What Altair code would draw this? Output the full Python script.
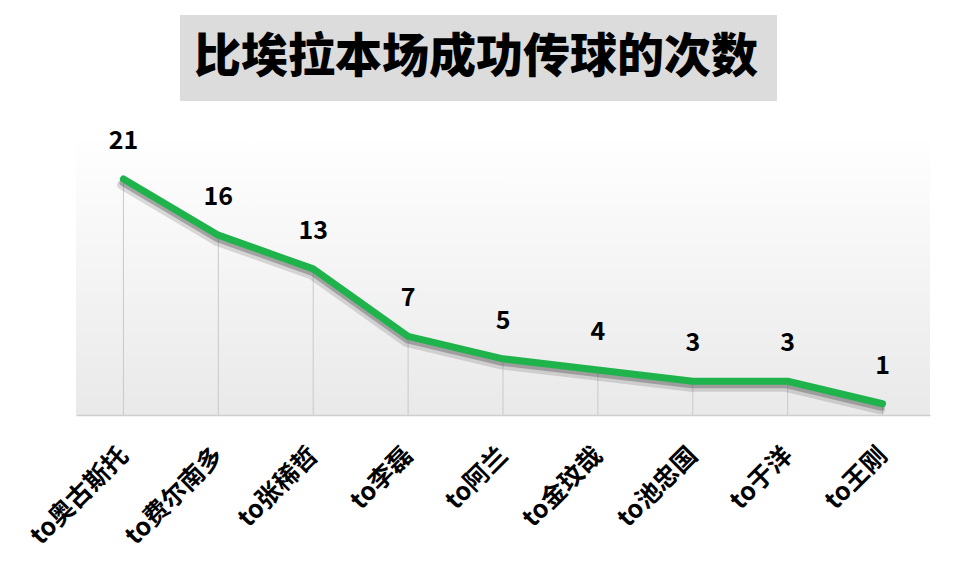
import altair as alt
import pandas as pd

names = ["to奥古斯托", "to费尔南多", "to张稀哲", "to李磊", "to阿兰",
         "to金玟哉", "to池忠国", "to于洋", "to王刚"]
values = [21, 16, 13, 7, 5, 4, 3, 3, 1]
title_text = "比埃拉本场成功传球的次数"

df = pd.DataFrame({"name": names, "value": values})
one = pd.DataFrame({"k": [0]})

W, H = 854, 281
FONT = "Noto Sans CJK SC"

x_enc = alt.X("name:N", sort=names,
              scale=alt.Scale(type="point", padding=0.5),
              axis=alt.Axis(title=None, labelAngle=-45, labelAlign="right",
                            labelBaseline="middle", labelFontSize=25,
                            labelFont=FONT, labelFontWeight="bold",
                            labelColor="#000000", labelPadding=36,
                            ticks=False, domainColor="#cfcfcf",
                            domainWidth=1.5, grid=False, labelOverlap=False,
                            zindex=1))
y_scale = alt.Scale(domain=[0, 25], nice=False, zero=True)
y_enc = alt.Y("value:Q", scale=y_scale, axis=None)

# plot background gradient
bg = alt.Chart(one).mark_rect(
    color=alt.Gradient(gradient="linear", x1=0, x2=0, y1=0, y2=1,
                       stops=[alt.GradientStop(offset=0, color="#ffffff"),
                              alt.GradientStop(offset=1, color="#e9e9e9")])
).encode(x=alt.value(0), x2=alt.value(W), y=alt.value(0), y2=alt.value(H))

# title box
tbox = alt.Chart(one).mark_rect(color="#dcdcdc").encode(
    x=alt.value(104), x2=alt.value(701), y=alt.value(-119), y2=alt.value(-33))
ttext = alt.Chart(one).mark_text(
    text=title_text, font=FONT, fontSize=47, fontWeight=900,
    color="#000000", align="center", baseline="middle"
).encode(x=alt.value(400), y=alt.value(-76))

base = alt.Chart(df)

drops = base.mark_rule(color="#c9c9c9", strokeWidth=1).encode(
    x=x_enc, y=y_enc, y2=alt.datum(0))

shadow1 = base.mark_line(color="#444444", strokeWidth=9, opacity=0.18,
                         strokeJoin="round", strokeCap="round",
                         xOffset=-2, yOffset=6).encode(x=x_enc, y=y_enc)
shadow2 = base.mark_line(color="#555555", strokeWidth=6, opacity=0.4,
                         strokeJoin="round", strokeCap="round",
                         xOffset=-1, yOffset=4).encode(x=x_enc, y=y_enc)
line = base.mark_line(color="#1fb34c", strokeWidth=7, strokeJoin="round",
                      strokeCap="round").encode(x=x_enc, y=y_enc)

labels = base.mark_text(font=FONT, fontSize=25, fontWeight="bold",
                        color="#000000", dy=-38, baseline="middle").encode(
    x=x_enc, y=y_enc, text="value:Q")

chart = alt.layer(bg, tbox, ttext, drops, shadow1, shadow2,
                  line, labels).properties(
    width=W, height=H,
    autosize=alt.AutoSizeParams(type="none"),
    padding={"left": 68, "top": 126, "right": 22, "bottom": 155},
    background="#ffffff"
).configure_view(stroke=None)

chart.save("out.html", embed_options={"renderer": "svg", "actions": False})
